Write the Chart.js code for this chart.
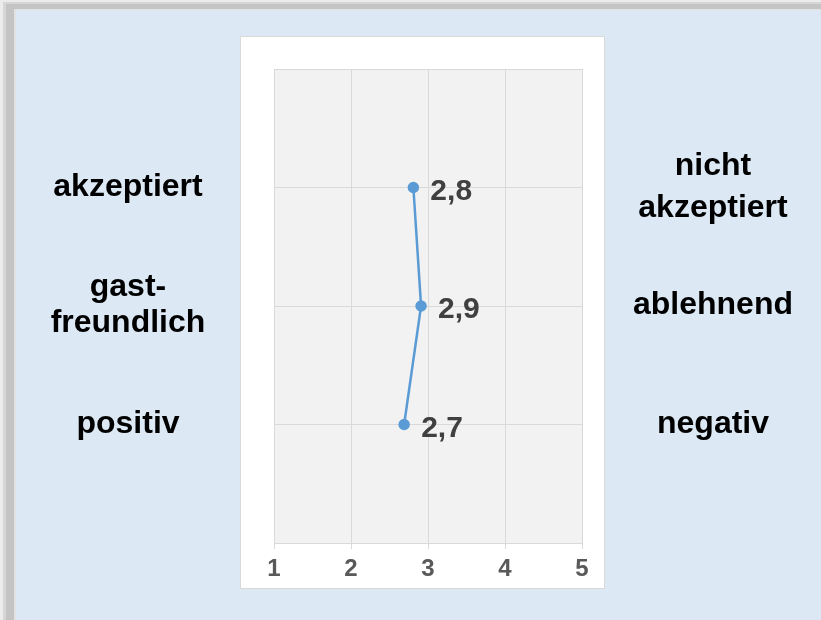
<!DOCTYPE html>
<html>
<head>
<meta charset="utf-8">
<script src="https://cdn.jsdelivr.net/npm/chart.js@4"></script>
<style>
html,body{margin:0;padding:0;background:#dce9f5;overflow:hidden;}
canvas{display:block;}
</style>
</head>
<body>
<canvas id="c" width="821" height="620"></canvas>
<script>
// ---- data ----
const leftLabels = ['akzeptiert', ['gast-', 'freundlich'], 'positiv'];
const rightLabels = [['nicht', 'akzeptiert'], 'ablehnend', 'negativ'];
const rows = [1, 2, 3];
const values = [2.81, 2.91, 2.69];
const xTicks = [1, 2, 3, 4, 5];

const FONT = "'Liberation Sans', Arial, sans-serif";

const framePlugin = {
  id: 'frame',
  beforeDraw(chart) {
    const ctx = chart.ctx, W = chart.width, H = chart.height, a = chart.chartArea;
    ctx.save();
    // outer shadow frame
    ctx.fillStyle = '#ececec';
    ctx.fillRect(0, 0, W, H);
    ctx.fillStyle = '#d6d6d6';
    ctx.fillRect(3, 2, W, H);
    ctx.fillStyle = '#c4c4c4';
    ctx.fillRect(6, 4, W, H);
    ctx.fillStyle = '#e2e2e2';
    ctx.fillRect(14, 9, W, H);
    // blue background
    ctx.fillStyle = '#dce9f5';
    ctx.fillRect(16, 10, W, H);
    // white panel
    const pl = a.left - 34, pt = a.top - 33, pr = a.right + 23, pb = a.bottom + 46;
    chart.$panel = {pl, pt, pr, pb};
    ctx.fillStyle = '#ffffff';
    ctx.fillRect(pl, pt, pr - pl, pb - pt);
    ctx.strokeStyle = '#d9d9d9';
    ctx.lineWidth = 1;
    ctx.strokeRect(pl + 0.5, pt + 0.5, pr - pl - 1, pb - pt - 1);
    // plot area
    ctx.fillStyle = '#f2f2f2';
    ctx.fillRect(a.left, a.top, a.right - a.left, a.bottom - a.top);
    ctx.restore();
  },
  afterDraw(chart) {
    const ctx = chart.ctx, W = chart.width, y = chart.scales.y;
    const p = chart.$panel;
    const lx = (16 + p.pl) / 2, rx = (p.pr + W) / 2;
    ctx.save();
    ctx.fillStyle = '#000000';
    ctx.font = 'bold 32px ' + FONT;
    ctx.textAlign = 'center';
    ctx.textBaseline = 'alphabetic';
    const drawLbl = (lbl, x, row, lh) => {
      const lines = Array.isArray(lbl) ? lbl : [lbl];
      const gy = y.getPixelForValue(row);
      const first = gy + 8 - (lines.length - 1) * lh / 2;
      lines.forEach((t, i) => ctx.fillText(t, x, first + i * lh));
    };
    leftLabels.forEach((l, i) => drawLbl(l, lx, rows[i], 36));
    rightLabels.forEach((l, i) => drawLbl(l, rx, rows[i], 42));
    ctx.restore();
  }
};

const valueLabels = {
  id: 'valueLabels',
  afterDatasetsDraw(chart) {
    const ctx = chart.ctx;
    const meta = chart.getDatasetMeta(0);
    ctx.save();
    ctx.fillStyle = '#404040';
    ctx.font = 'bold 30px ' + FONT;
    ctx.textAlign = 'left';
    ctx.textBaseline = 'middle';
    meta.data.forEach((pt, i) => {
      ctx.fillText(values[i].toFixed(1).replace('.', ','), pt.x + 17, pt.y + 4);
    });
    ctx.restore();
  }
};

new Chart(document.getElementById('c'), {
  type: 'scatter',
  data: {
    datasets: [{
      data: values.map((v, i) => ({x: v, y: rows[i]})),
      showLine: true,
      borderColor: '#5b9bd5',
      backgroundColor: '#5b9bd5',
      borderWidth: 2.5,
      pointRadius: 4.5,
      pointHoverRadius: 4.5,
      pointBackgroundColor: '#5b9bd5',
      pointBorderColor: '#5b9bd5',
      tension: 0
    }]
  },
  options: {
    responsive: false,
    animation: false,
    events: [],
    layout: {padding: {left: 274, right: 239, top: 69, bottom: 32}},
    plugins: {legend: {display: false}, tooltip: {enabled: false}},
    scales: {
      x: {
        type: 'linear',
        position: 'bottom',
        min: xTicks[0],
        max: xTicks[xTicks.length - 1],
        afterBuildTicks: s => { s.ticks = xTicks.map(v => ({value: v})); },
        afterFit: s => { s.height = 45; },
        grid: {color: '#d9d9d9', lineWidth: 1, tickLength: 6, drawTicks: true},
        border: {color: '#d9d9d9', width: 1},
        ticks: {
          color: '#595959',
          font: {family: FONT, size: 24, weight: 'bold'},
          padding: 6,
          maxRotation: 0
        }
      },
      y: {
        type: 'linear',
        min: 0,
        max: 4,
        reverse: true,
        afterBuildTicks: s => { s.ticks = [0, 1, 2, 3, 4].map(v => ({value: v})); },
        afterFit: s => { s.width = 0; },
        grid: {color: '#d9d9d9', lineWidth: 1, drawTicks: false},
        border: {display: false},
        ticks: {display: false}
      }
    }
  },
  plugins: [framePlugin, valueLabels]
});
</script>
</body>
</html>
